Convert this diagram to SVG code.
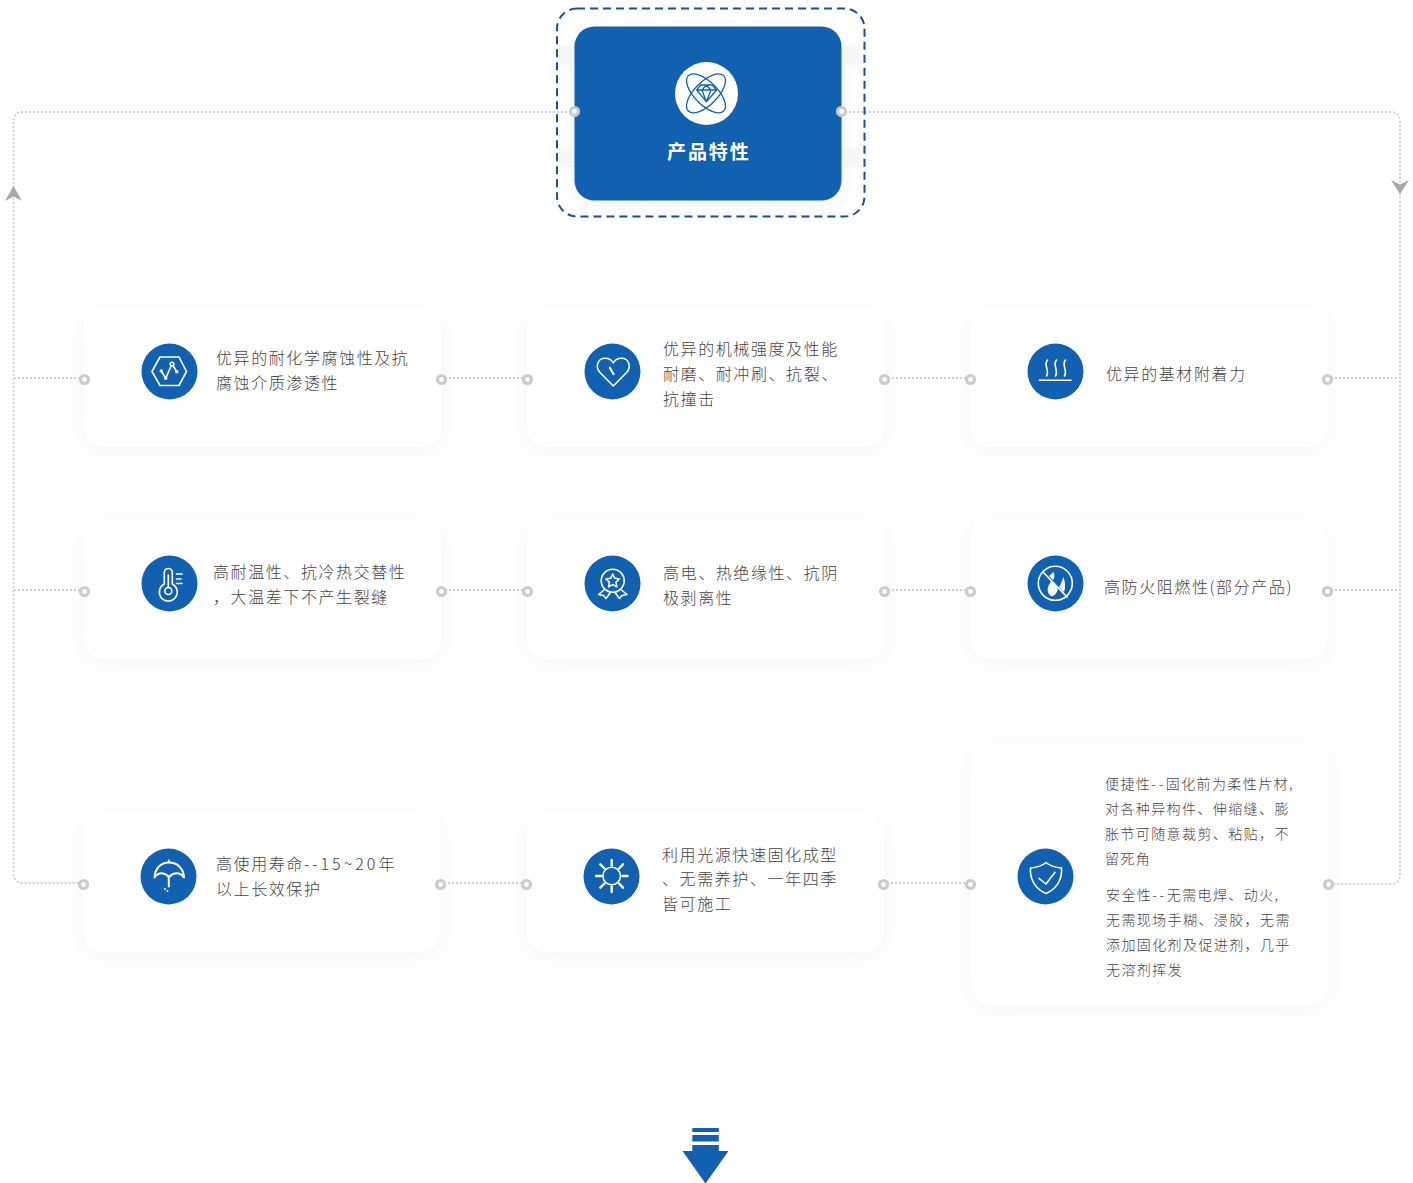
<svg xmlns="http://www.w3.org/2000/svg" width="1413" height="1183" viewBox="0 0 1413 1183">
<style>
text{font-family:"Noto Sans CJK SC","Liberation Sans",sans-serif}
.t{font-size:16px;letter-spacing:1.58px;fill:#444;font-weight:300}
.s{font-size:14px;letter-spacing:1.4px;fill:#444;font-weight:300}
.card{fill:#fff;filter:url(#sh)}
.ic{fill:#1261b0}
.w{fill:none;stroke:#fff;stroke-width:1.6;stroke-linecap:round;stroke-linejoin:round}
.wf{fill:#fff}
.line{fill:none;stroke:#d2d2d2;stroke-width:2;stroke-dasharray:2 2}
.dot{fill:#fff;stroke:#cbcbcb;stroke-width:3.200}
</style>
<defs>
<filter id="sh" x="-15%" y="-25%" width="130%" height="150%" color-interpolation-filters="sRGB"><feDropShadow dx="0" dy="4" stdDeviation="11" flood-color="#000" flood-opacity="0.045"/></filter>
</defs>
<rect width="1413" height="1183" fill="#fff"/>
<g id="connectors">
<path class="line" d="M575 112H23Q13.500 112 13.500 122V873Q13.500 883 23 883H84"/>
<path class="line" d="M841 112H1390Q1400 112 1400 122V874Q1400 884 1390 884H1328"/>
<path class="line" d="M14 378H84M441 378H527M884 378H970M1327 378H1400"/>
<path class="line" d="M14 590H84M441 590H527M884 590H970M1327 590H1400"/>
<path class="line" d="M440 883H526M883 883H970"/>
<polygon points="13.500,186 22,201 13.500,196.500 5,201" fill="#a9a9a9"/>
<polygon points="1400,194 1391,180 1400,184.500 1409,180" fill="#a9a9a9"/>
</g>
<g id="node-top">
<rect x="557" y="45" width="18" height="20" fill="#f9f9f9"/><rect x="557" y="147" width="18" height="20" fill="#f9f9f9"/>
<rect x="841" y="45" width="23" height="20" fill="#f9f9f9"/><rect x="841" y="147" width="23" height="20" fill="#f9f9f9"/>
<rect x="557" y="8.500" width="307.500" height="208" rx="20" fill="none" stroke="#1d4f91" stroke-width="2" stroke-dasharray="8 5"/>
<rect x="574.500" y="26.500" width="267" height="174" rx="20" class="ic" filter="url(#sh)"/>
<circle cx="706.500" cy="93.500" r="31.500" fill="#fff"/>
<g fill="none" stroke="#1261b0" stroke-width="1.300" stroke-linejoin="round">
<ellipse cx="706" cy="93.300" rx="25" ry="11.500" transform="rotate(45 706 93.300)"/>
<ellipse cx="706" cy="93.300" rx="25" ry="11.500" transform="rotate(-45 706 93.300)"/>
<path d="M700.700 85H712L716.700 90L706.300 101.700L696.700 90ZM696.700 90H716.700M702 90L706.300 101.700L711 90L706.300 85L702 90"/>
</g>
<text x="667" y="159" font-size="19" font-weight="700" letter-spacing="1.900" fill="#fff">产品特性</text>
<circle class="dot" cx="574.500" cy="111.500" r="4"/>
<circle class="dot" cx="841.500" cy="111.500" r="4"/>
</g>
<g id="node-1">
<rect class="card" x="84" y="308" width="357.500" height="139" rx="20"/>
<circle class="ic" cx="169.500" cy="371.500" r="28"/>
<path class="w" d="M152 371.500L160 357H179L186.500 371.500L179 385.500H160Z"/>
<path class="w" d="M161.300 371L165.700 378.300L172 364L176.700 371.700"/>
<circle class="wf" cx="161.300" cy="371" r="1.700"/><circle class="wf" cx="165.700" cy="378.300" r="1.700"/><circle class="w" cx="172" cy="364" r="1.800" style="fill:#1261b0"/><circle class="wf" cx="176.700" cy="371.700" r="1.700"/>
<text class="t" x="216" y="364">优异的耐化学腐蚀性及抗</text>
<text class="t" x="216" y="389">腐蚀介质渗透性</text>
<circle class="dot" cx="84.500" cy="379.500" r="4"/><circle class="dot" cx="441.500" cy="379.500" r="4"/>
</g>
<g id="node-2">
<rect class="card" x="527" y="308" width="357.500" height="139" rx="20"/>
<circle class="ic" cx="612.500" cy="371.500" r="28"/>
<path class="w" d="M613.300 386L600 372.500C595 367 597.500 358.300 605 358.300C609 358.300 612 360.500 613.300 363C614.600 360.500 617.600 358.300 621.600 358.300C629 358.300 631.600 367 626.600 372.500Z"/>
<path class="w" d="M609.800 367.700L613.500 374" style="stroke-width:2.200"/>
<text class="t" x="663" y="355">优异的机械强度及性能</text>
<text class="t" x="663" y="380">耐磨、耐冲刷、抗裂、</text>
<text class="t" x="663" y="405">抗撞击</text>
<circle class="dot" cx="527.500" cy="379.500" r="4"/><circle class="dot" cx="884.500" cy="379.500" r="4"/>
</g>
<g id="node-3">
<rect class="card" x="970" y="308" width="357.500" height="139" rx="20"/>
<circle class="ic" cx="1055.500" cy="371.500" r="28"/>
<path class="w" d="M1039.500 380.300H1071"/>
<path class="w" d="M1047.500 360C1043 365 1050 370 1046.500 376M1056.500 360C1052 365 1059 370 1055.500 376M1065.500 360C1061 365 1068 370 1064.500 376"/>
<text class="t" x="1106" y="380">优异的基材附着力</text>
<circle class="dot" cx="970.500" cy="379.500" r="4"/><circle class="dot" cx="1327.500" cy="379.500" r="4"/>
</g>
<g id="node-4">
<rect class="card" x="84" y="520" width="357.500" height="139" rx="20"/>
<circle class="ic" cx="169.500" cy="583.500" r="28"/>
<path class="w" d="M164.300 584V572.500A4 4 0 0 1 172.300 572.500V584A9 9 0 1 1 164.300 584Z"/>
<circle class="w" cx="168.300" cy="591" r="3.500"/><path class="w" d="M168.300 587V575M176.500 574H182M176.500 579H181M176.500 583.500H182"/>
<text class="t" x="213" y="578">高耐温性、抗冷热交替性</text>
<text class="t" x="213" y="603">，大温差下不产生裂缝</text>
<circle class="dot" cx="84.500" cy="591.500" r="4"/><circle class="dot" cx="441.500" cy="591.500" r="4"/>
</g>
<g id="node-5">
<rect class="card" x="527" y="520" width="357.500" height="139" rx="20"/>
<circle class="ic" cx="612.500" cy="583.500" r="28"/>
<circle class="w" cx="612.700" cy="580.700" r="11.500"/>
<path class="w" d="M612.700 574L614.800 578.300L619.400 579L616 582.200L616.800 586.800L612.700 584.600L608.600 586.800L609.400 582.200L606 579L610.600 578.300Z"/>
<path class="w" d="M604 590L598.500 594.500L603.500 595.500L606 598.500L610.500 592.500M621.500 590L627 594.500L622 595.500L619.500 598.500L615 592.500"/>
<text class="t" x="663" y="579">高电、热绝缘性、抗阴</text>
<text class="t" x="663" y="604">极剥离性</text>
<circle class="dot" cx="527.500" cy="591.500" r="4"/><circle class="dot" cx="884.500" cy="591.500" r="4"/>
</g>
<g id="node-6">
<rect class="card" x="970" y="520" width="357.500" height="139" rx="20"/>
<circle class="ic" cx="1055.500" cy="583.500" r="28"/>
<circle class="w" cx="1055.300" cy="583.300" r="17"/>
<path class="w" d="M1043 572L1067 597" style="stroke-width:1.800"/>
<path class="wf" d="M1053.500 572C1055 575 1054.500 578 1053 580L1049 576ZM1051 581L1057.500 588C1058 591 1056 595 1052 596.500C1048 595 1047 590 1048 587C1049 585 1050 583 1051 581ZM1063.500 577C1065 582 1066 587 1064 592L1059 587C1061 584 1062 581 1063.500 577Z"/>
<text class="t" x="1104" y="593">高防火阻燃性(部分产品)</text>
<circle class="dot" cx="970.500" cy="591.500" r="4"/><circle class="dot" cx="1327.500" cy="591.500" r="4"/>
</g>
<g id="node-7">
<rect class="card" x="83.500" y="813" width="357" height="139" rx="20"/>
<circle class="ic" cx="168.500" cy="876.500" r="28"/>
<path class="w" d="M154.500 877.500C155 868 161 862.500 169 862.500C177 862.500 183.500 868 184 877.500C180 872 174 872 169 877C164 872 158.500 872 154.500 877.500Z" style="stroke-width:2"/>
<path class="w" d="M168.800 877V886.500M168.800 860.500V862" style="stroke-width:2"/>
<circle class="wf" cx="165" cy="889" r="1"/><circle class="wf" cx="167.500" cy="891" r="1"/>
<text class="t" x="216" y="870">高使用寿命<tspan letter-spacing="3">--15~20</tspan>年</text>
<text class="t" x="216" y="895">以上长效保护</text>
<circle class="dot" cx="83.500" cy="884.500" r="4"/><circle class="dot" cx="440.500" cy="884.500" r="4"/>
</g>
<g id="node-8">
<rect class="card" x="526.500" y="813" width="357" height="139" rx="20"/>
<circle class="ic" cx="611.500" cy="876.500" r="28"/>
<circle class="w" cx="611.700" cy="876" r="8.800"/>
<path class="w" d="M611.700 860V865.500M611.700 886.500V892M596 876H601M622.500 876H627.500M600.300 864.300L604.500 868.500M619 883.500L623 887.700M600.300 887.700L604.500 883.500M619 868.500L623 864.300" style="stroke-width:2.400"/>
<text class="t" x="662" y="861">利用光源快速固化成型</text>
<text class="t" x="662" y="885">、无需养护、一年四季</text>
<text class="t" x="662" y="910">皆可施工</text>
<circle class="dot" cx="526.500" cy="884.500" r="4"/><circle class="dot" cx="883.500" cy="884.500" r="4"/>
</g>
<g id="node-9">
<rect class="card" x="971" y="743.500" width="357.500" height="262" rx="20"/>
<circle class="ic" cx="1045.500" cy="876.500" r="28"/>
<path class="w" d="M1046 862.500C1050 866 1056 867.500 1061.500 868C1062.500 880 1056 889 1046 893.500C1036 889 1029.500 880 1030.500 868C1036 867.500 1042 866 1046 862.500Z"/>
<path class="w" d="M1039 878.300L1046 884L1055 872.300"/>
<text class="s" x="1105" y="789">便捷性<tspan letter-spacing="2.600">--</tspan>固化前为柔性片材,</text>
<text class="s" x="1105" y="814">对各种异构件、伸缩缝、膨</text>
<text class="s" x="1105" y="839">胀节可随意裁剪、粘贴，不</text>
<text class="s" x="1105" y="864">留死角</text>
<text class="s" x="1106" y="900">安全性<tspan letter-spacing="2.600">--</tspan>无需电焊、动火,</text>
<text class="s" x="1106" y="925">无需现场手糊、浸胶，无需</text>
<text class="s" x="1106" y="950">添加固化剂及促进剂，几乎</text>
<text class="s" x="1106" y="975">无溶剂挥发</text>
<circle class="dot" cx="970.500" cy="884.500" r="4"/><circle class="dot" cx="1328.500" cy="884.500" r="4"/>
</g>
<g id="arrow-down" fill="#1261b0">
<rect x="692.300" y="1128" width="26.500" height="4"/>
<rect x="692.300" y="1135" width="26.500" height="6.500"/>
<path d="M692.300 1145H718.800V1151H728.500L705.500 1183.500L682.500 1151H692.300Z"/>
</g>
</svg>
